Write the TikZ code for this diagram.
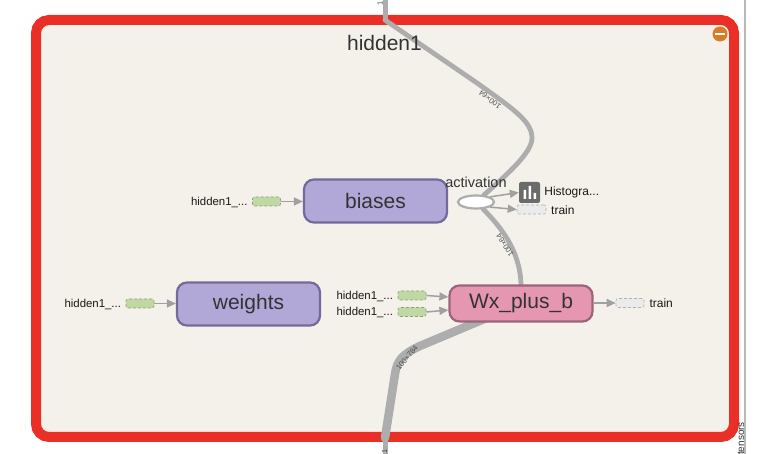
\documentclass[tikz,border=0pt]{standalone}
\usepackage{fontspec}
\setmainfont{Liberation Sans}
\usetikzlibrary{positioning,arrows.meta,shapes.geometric}
\definecolor{panelfill}{HTML}{F3F1E9}
\definecolor{panelred}{HTML}{E92F26}
\definecolor{edgegray}{HTML}{ADADAD}
\definecolor{arrowgray}{HTML}{A0A0A0}
\definecolor{groupfill}{HTML}{B2A8D8}
\definecolor{groupline}{HTML}{74699A}
\definecolor{opfill}{HTML}{E597B2}
\definecolor{opline}{HTML}{9C6478}
\definecolor{constfill}{HTML}{BFD8A4}
\definecolor{constline}{HTML}{8CA37A}
\definecolor{inkdark}{HTML}{333333}
\definecolor{collapseorange}{HTML}{D97B27}
\pgfdeclarelayer{frame}
\pgfdeclarelayer{flows}
\pgfsetlayers{frame,flows,main}
\tikzset{
  bigbox/.style={draw=groupline,fill=groupfill,line width=2.2pt,rounded corners=10pt,anchor=center,text=inkdark,font=\fontsize{21}{21}\selectfont,minimum width=141pt,minimum height=42pt,inner sep=0pt},
  opbox/.style={bigbox,draw=opline,fill=opfill,minimum height=36pt},
  smallconst/.style={draw=constline,fill=constfill,densely dashed,line width=.6pt,rounded corners=2pt,minimum width=28pt,minimum height=9pt,inner sep=0pt},
  smalltrain/.style={smallconst,draw=black!30,fill=black!8},
  smalltext/.style={font=\fontsize{12}{12}\selectfont,inner sep=0pt,text=black!90},
  hiddentext/.style={smalltext,font=\fontsize{11.4}{12}\selectfont,yshift=-1pt},
  shapetext/.style={font=\fontsize{7.5}{8}\selectfont,inner sep=0pt,text=black!70},
  thin arrow/.style={draw=arrowgray,line width=1.5pt,-{Triangle[length=9pt,width=8pt]}},
  flow/.style={draw=edgegray,line width=4.8pt,line cap=round}
}
\begin{document}
\begin{tikzpicture}[x=1pt,y=-1pt]
  \useasboundingbox (0,0) rectangle (780,454);
  % frame and side rule
  \begin{pgfonlayer}{frame}
    \draw[black!28,line width=2pt] (745,0) -- (745,454);
    \draw[panelred,fill=panelfill,line width=10pt,rounded corners=13pt] (36,20) rectangle (734,437);
  \end{pgfonlayer}
  \node[rotate=90,font=\fontsize{10}{10}\selectfont,inner sep=0pt,text=black!80] (tensorslabel) at (741,438.5) {tensors};
  \node[font=\fontsize{21}{21}\selectfont,text=inkdark,inner sep=0pt] (title) at (384.5,43) {hidden1};
  \node[circle,fill=collapseorange,minimum size=15pt,inner sep=0pt] (collapse) at (720,34) {};
  \fill[white] (715,33) rectangle (725,35.4);
  % main boxes
  \node[bigbox,minimum width=143pt,minimum height=43pt] (biases) at (375.5,201) {biases};
  \node[bigbox,minimum width=143pt,minimum height=43pt] (weights) at (248.5,304) {\raisebox{-1.5pt}{weights}};
  \node[opbox,minimum width=143pt] (wx) at (521,303.5) {\raisebox{-1.5pt}{Wx\_plus\_b}};
  % activation
  \node[draw=edgegray,fill=white,line width=2.2pt,ellipse,minimum width=36pt,minimum height=13pt,inner sep=0pt] (act) at (476,202) {};
  \node[font=\fontsize{14.5}{15}\selectfont,text=inkdark,inner sep=0pt] (actlabel) at (476,182) {activation};
  \node[fill=black!58,rounded corners=2pt,minimum size=21pt,inner sep=0pt] (hist) at (529.5,192.5) {};
  \fill[white] (523.5,199) rectangle +(2.5,-9) (528.5,199) rectangle +(2.5,-13) (533.5,199) rectangle +(2.5,-6);
  \node[smalltrain,minimum width=29pt] (acttrain) at (531.5,209.5) {};
  \node[smalltext,right=4pt of hist] (histlabel) {Histogra...};
  \node[smalltext,anchor=west] (acttrainlabel) at (551,210) {train};
  % auxiliary inputs
  \node[smallconst] (bconst) at (266.5,201.5) {};
  \node[hiddentext,left=4.5pt of bconst] (blabel) {hidden1\_...};
  \node[smallconst] (wconst) at (140,303.5) {};
  \node[hiddentext,left=4.5pt of wconst] (wlabel) {hidden1\_...};
  \node[smallconst] (xconsta) at (412,295.5) {};
  \node[hiddentext,left=4.5pt of xconsta] (xlabela) {hidden1\_...};
  \node[smallconst] (xconstb) at (412,312) {};
  \node[hiddentext,left=4.5pt of xconstb] (xlabelb) {hidden1\_...};
  \node[smalltrain] (wxtrain) at (630,303) {};
  \node[smalltext,right=5pt of wxtrain] (wxtrainlabel) {train};
  % thin arrows
  \draw[thin arrow] (bconst) -- (biases.west |- bconst);
  \draw[thin arrow] (wconst) -- (weights.west |- wconst);
  \draw[thin arrow] (xconsta.east) -- (wx.west |- 0,297);
  \draw[thin arrow] (xconstb.east) -- (wx.west |- 0,310);
  \draw[thin arrow] (wx.east |- wxtrain) -- (wxtrain.west);
  \draw[thin arrow] (act.20) -- (hist.west);
  \draw[thin arrow] (act.340) -- (acttrain.west);
  % thick edges
  \coordinate (topin) at (385,20);
  \coordinate (topstub) at (385,0);
  \coordinate (botout) at (385,438);
  \coordinate (botstub) at (385,454);
  \begin{pgfonlayer}{flows}
    \draw[flow,line cap=butt,line width=5pt] (topstub) -- (topin);
    \draw[flow] (topin) -- (477,83) .. controls (515,110) and (532,122) .. (532,138) .. controls (532,152) and (510,172) .. (act);
    \draw[flow] (act) .. controls (500,226) and (520,250) .. (wx.north);
    \draw[flow,line cap=butt,line width=5pt] (botout) -- (botstub);
    \draw[flow,line width=8.5pt] (wx.center) -- (420,346) .. controls (403,354) and (397,360) .. (395,374) -- (botout);
  \end{pgfonlayer}
  % shape labels
  \node[shapetext,rotate=143] (shapea) at (490,99.5) {100×64};
  \node[shapetext,rotate=122] (shapeb) at (505,245) {100×64};
  \node[shapetext,rotate=50] (shapec) at (407,358) {100×784};
  \node[shapetext,rotate=90] (topmark) at (380,3) {1};
  \node[shapetext,rotate=90] (botmark) at (384.5,451) {1};
\end{tikzpicture}
\end{document}
